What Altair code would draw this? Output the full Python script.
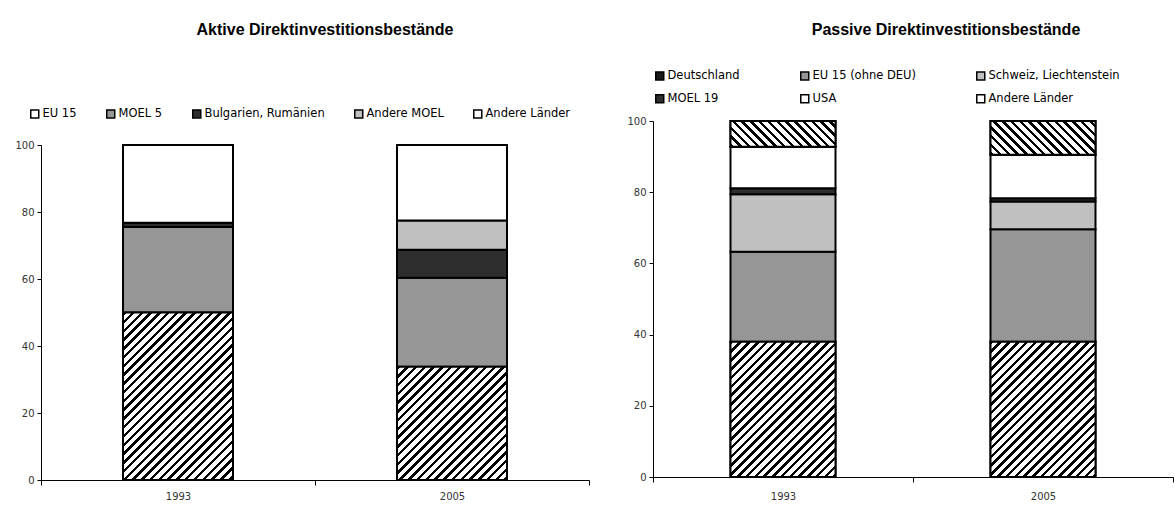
import math
import altair as alt
import pandas as pd

# ---- data -----------------------------------------------------------------
jahre = ["1993", "2005"]

aktiv_regionen = ["EU 15", "MOEL 5", "Bulgarien, Rumänien", "Andere MOEL", "Andere Länder"]
aktiv_1993 = [50.0, 25.5, 1.3, 0.0, 23.2]
aktiv_2005 = [33.8, 26.6, 8.3, 8.8, 22.5]

passiv_regionen = ["Deutschland", "EU 15 (ohne DEU)", "Schweiz, Liechtenstein",
                   "MOEL 19", "USA", "Andere Länder"]
passiv_1993 = [38.0, 25.3, 16.1, 1.7, 11.7, 7.2]
passiv_2005 = [38.0, 31.6, 7.8, 0.9, 12.2, 9.5]

# ---- styling ----------------------------------------------------------------
aktiv_fuellung = ["#ffffff", "#969696", "#2e2e2e", "#c0c0c0", "#ffffff"]
aktiv_schraffur = {"EU 15": "/"}
passiv_fuellung = ["#1a1a1a", "#969696", "#c0c0c0", "#2e2e2e", "#ffffff", "#ffffff"]
passiv_schraffur = {"Deutschland": "/", "Andere Länder": "\\"}

LABEL_FONT = "DejaVu Sans"
TITLE_FONT = "Liberation Sans"


def schraffur(w, h, richtung, periode=6.2, anteil=0.4):
    """Linear gradient with hard stops that draws 45-degree stripes on a w x h box."""
    total = (w + h) / math.sqrt(2)
    c = (w + h) / (w * w + h * h)
    stops = []
    i = 0
    while i * periode < total:
        a = i * periode / total
        b = min((i * periode + anteil * periode) / total, 1.0)
        e = min((i + 1) * periode / total, 1.0)
        stops += [
            {"offset": a, "color": "black"},
            {"offset": b, "color": "black"},
            {"offset": b, "color": "white"},
            {"offset": e, "color": "white"},
        ]
        i += 1
    if richtung == "/":
        return alt.LinearGradient(gradient="linear", x1=0, y1=0, x2=c * w, y2=c * h, stops=stops)
    return alt.LinearGradient(gradient="linear", x1=0, y1=1, x2=c * w, y2=1 - c * h, stops=stops)


def panel(titel, regionen, werte_1993, werte_2005, fuellung, schraffiert,
          breite, hoehe, oben, balken, spalten, leg_x, leg_y, col_pad,
          titel_dx, titel_offset, x_abstand):
    zeilen = []
    for jahr, werte in zip(jahre, [werte_1993, werte_2005]):
        for rang, (region, wert) in enumerate(zip(regionen, werte)):
            zeilen.append({"Jahr": jahr, "Region": region, "Anteil": wert, "Rang": rang})
    df = pd.DataFrame(zeilen)

    basis = alt.Chart(df).transform_stack(
        stack="Anteil", groupby=["Jahr"], as_=["y0", "y1"],
        sort=[alt.SortField("Rang", order="ascending")],
    )
    x = alt.X(
        "Jahr:N",
        sort=jahre,
        scale=alt.Scale(paddingInner=0, paddingOuter=0),
        axis=alt.Axis(title=None, labelAngle=0, tickBand="extent", tickSize=5,
                      labelPadding=x_abstand),
    )
    y = alt.Y(
        "y0:Q",
        scale=alt.Scale(domain=[0, 100], nice=False, range=[hoehe, oben]),
        axis=alt.Axis(title=None, values=[0, 20, 40, 60, 80, 100], grid=False,
                      tickSize=4, labelPadding=3),
    )
    balken_mark = dict(size=balken, stroke="black", strokeWidth=2)

    bars = basis.mark_bar(**balken_mark).encode(
        x=x,
        y=y,
        y2="y1:Q",
        color=alt.Color(
            "Region:N",
            scale=alt.Scale(domain=regionen, range=fuellung),
            legend=alt.Legend(
                title=None, orient="none", legendX=leg_x, legendY=leg_y,
                direction="horizontal", columns=spalten, columnPadding=col_pad,
                rowPadding=8, symbolType="square", symbolSize=64,
                symbolStrokeColor="black", symbolStrokeWidth=1.5,
                labelFont=LABEL_FONT, labelFontSize=11.5, labelColor="black",
                labelOffset=2,
            ),
        ),
    )
    ebenen = [bars]
    pro_einheit = (hoehe - oben) / 100.0
    for jahr, werte in zip(jahre, [werte_1993, werte_2005]):
        for region, wert in zip(regionen, werte):
            if region in schraffiert and wert > 0:
                muster = schraffur(balken, wert * pro_einheit, schraffiert[region])
                ebenen.append(
                    basis.transform_filter(
                        (alt.datum.Jahr == jahr) & (alt.datum.Region == region)
                    ).mark_bar(**balken_mark).encode(
                        x=x, y=y, y2="y1:Q", color=alt.value(muster)
                    )
                )
    return alt.layer(*ebenen).properties(
        width=breite,
        height=hoehe,
        title=alt.TitleParams(
            titel, font=TITLE_FONT, fontSize=16, fontWeight="bold", color="black",
            anchor="middle", dx=titel_dx, offset=titel_offset,
        ),
    ).resolve_scale(color="independent")


links = panel(
    "Aktive Direktinvestitionsbestände", aktiv_regionen, aktiv_1993, aktiv_2005,
    aktiv_fuellung, aktiv_schraffur,
    breite=548, hoehe=359, oben=24, balken=110, spalten=5, leg_x=-12, leg_y=-13,
    col_pad=26, titel_dx=10, titel_offset=70, x_abstand=6,
)
rechts = panel(
    "Passive Direktinvestitionsbestände", passiv_regionen, passiv_1993, passiv_2005,
    passiv_fuellung, passiv_schraffur,
    breite=520, hoehe=356, oben=0, balken=105, spalten=3, leg_x=1, leg_y=-51,
    col_pad=57, titel_dx=33, titel_offset=32, x_abstand=9,
)

chart = alt.hconcat(links, rechts, spacing=36).resolve_scale(color="independent").properties(
    padding={"left": 14, "top": 22, "right": 0, "bottom": 0}
).configure_view(stroke=None).configure_axis(
    domainColor="black", domainWidth=1, tickColor="black", tickWidth=1,
    labelFont=LABEL_FONT, labelFontSize=10, labelColor="#333333",
).configure_concat(spacing=36)

chart.save("out.html", embed_options={"renderer": "svg", "actions": False})
